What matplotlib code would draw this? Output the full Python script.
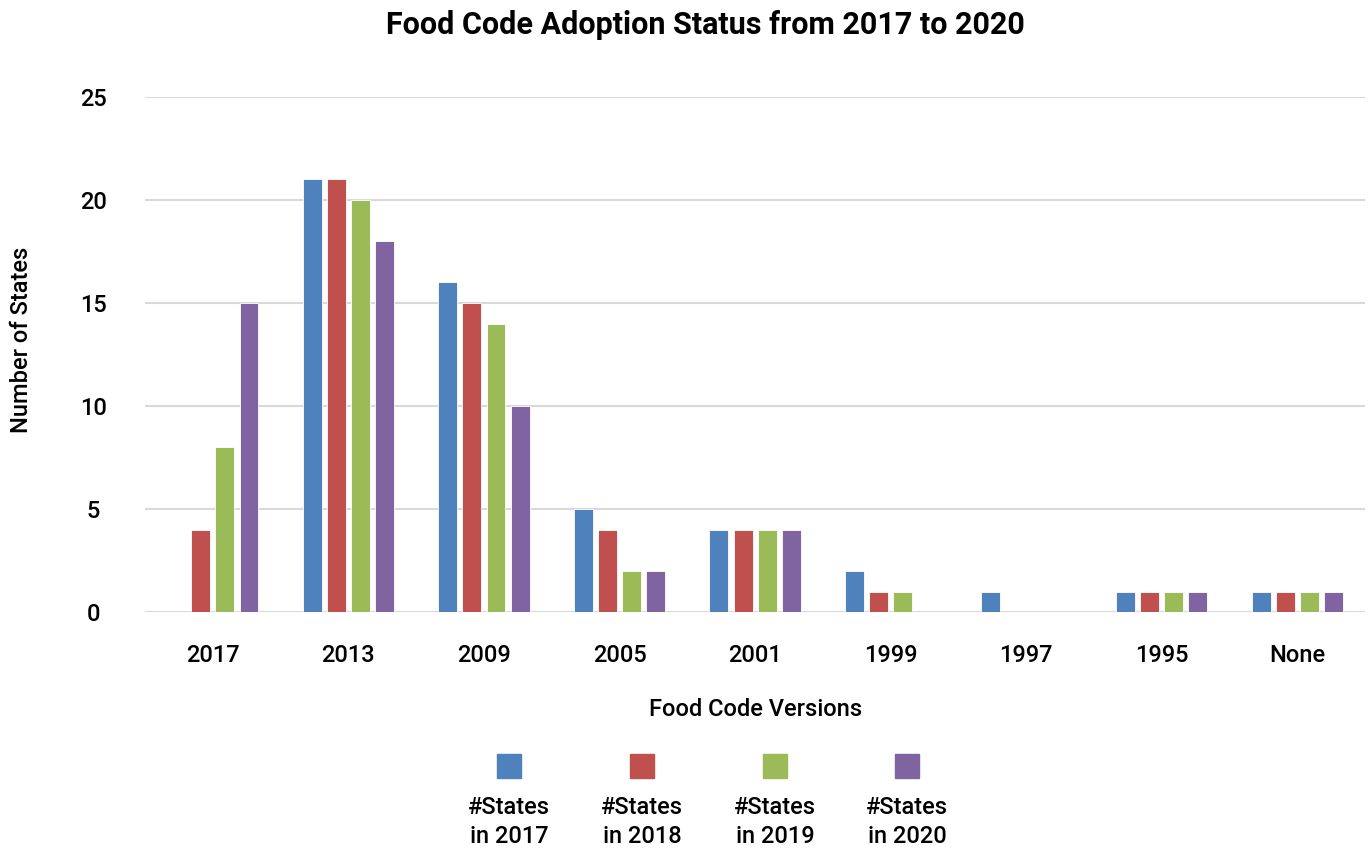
import matplotlib
matplotlib.use("Agg")
import matplotlib.pyplot as plt
import numpy as np
from matplotlib.patches import Rectangle

plt.rcParams['font.family'] = ['Roboto', 'DejaVu Sans']
plt.rcParams['font.weight'] = 'medium'
plt.rcParams['axes.labelweight'] = 'medium'

versions = ['2017', '2013', '2009', '2005', '2001', '1999', '1997', '1995', 'None']
states_2017 = [0, 21, 16, 5, 4, 2, 1, 1, 1]
states_2018 = [4, 21, 15, 4, 4, 1, 0, 1, 1]
states_2019 = [8, 20, 14, 2, 4, 1, 0, 1, 1]
states_2020 = [15, 18, 10, 2, 4, 0, 0, 1, 1]
series_labels = ['#States\nin 2017', '#States\nin 2018', '#States\nin 2019', '#States\nin 2020']
colors = ['#4f81bd', '#c0504d', '#9bbb59', '#8064a2']

series = [states_2017, states_2018, states_2019, states_2020]

fig = plt.figure(figsize=(13.72, 8.49), dpi=100)
ax = fig.add_axes([0.1057, 0.279, 0.8893, 0.6067])

x = np.arange(len(versions))
width = 0.14
step = 0.178
for i, (vals, col) in enumerate(zip(series, colors)):
    offs = (i - 1.5) * step
    ax.bar(x + offs, vals, width=width, color=col, edgecolor='white', linewidth=0.6, zorder=3)

ax.set_xlim(-0.5, len(versions) - 0.5)
ax.set_ylim(0, 25)
ax.set_yticks(range(0, 26, 5))
ax.set_xticks(x)
ax.set_xticklabels(versions)
ax.tick_params(axis='both', length=0, labelsize=17, colors='black')
ax.tick_params(axis='x', pad=23)
ax.tick_params(axis='y', pad=37)
for lbl in ax.get_yticklabels():
    lbl.set_horizontalalignment('center')
ax.yaxis.grid(True, color='#d9d9d9', linewidth=1.5, zorder=0)
for s in ax.spines.values():
    s.set_visible(False)

ax.set_xlabel('Food Code Versions', fontsize=17, labelpad=22)
ax.set_ylabel('Number of States', fontsize=17)
ax.yaxis.set_label_coords(-0.092, 0.528)
fig.text(705 / 1372, 1 - 25 / 849, 'Food Code Adoption Status from 2017 to 2020',
         ha='center', va='center', fontsize=22, fontweight='bold')

# legend: square above text, centred
leg_x = [509, 642, 775, 907]
W, H = 1372, 849
for lx, col, lab in zip(leg_x, colors, series_labels):
    fig.patches.append(Rectangle(((lx - 12) / W, (H - 778) / H), 24 / W, 24 / H,
                                 transform=fig.transFigure, color=col))
    fig.text(lx / W, (H - 822) / H, lab, ha='center', va='center', fontsize=17, linespacing=1.3)

fig.savefig('out.png', dpi=100)
